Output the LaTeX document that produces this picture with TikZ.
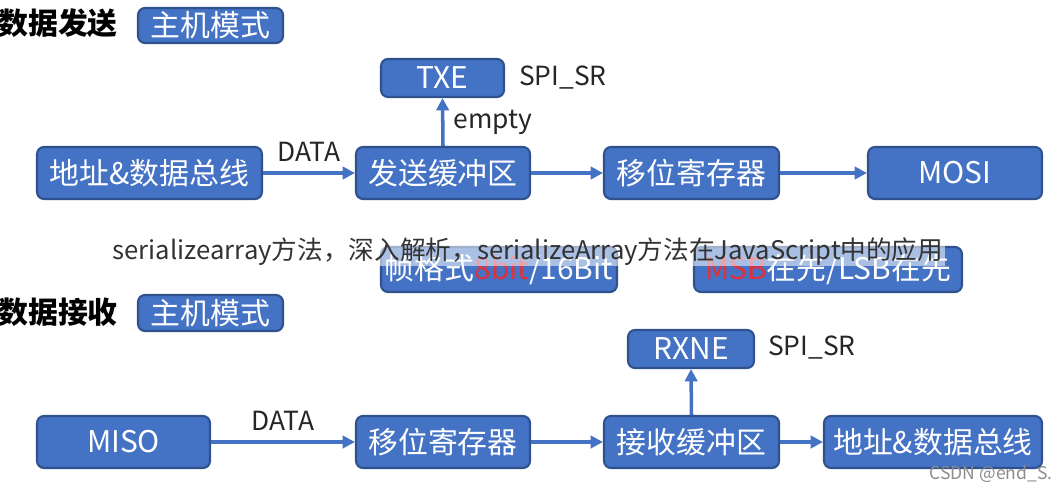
\documentclass[tikz,border=0pt]{standalone}
\usepackage{fontspec}
\setmainfont{Noto Sans CJK SC}
\usetikzlibrary{arrows.meta}
\definecolor{bfill}{HTML}{4472C4}
\definecolor{bdraw}{HTML}{2F528F}
\definecolor{mred}{HTML}{E0303A}
\begin{document}
\begin{tikzpicture}[x=0.02cm,y=-0.02cm,
 bx/.style={draw=bdraw,line width=1.2pt,fill=bfill,rounded corners=4pt,text=white,font=\fontsize{17}{17}\selectfont,inner sep=0pt},
 arr/.style={-{Triangle[length=7pt,width=7pt]},draw=bfill,line width=2pt},
 lbl/.style={font=\fontsize{15}{15}\selectfont,text=black!85}]
\useasboundingbox (0,0) rectangle (1055,490);
\fill[white] (0,0) rectangle (1055,490);
% send
\node[anchor=west,font=\fontsize{17}{17}\selectfont\bfseries,inner sep=0] (t1) at (-2,23) {数据发送};
\node[bx,minimum width=2.9cm,minimum height=0.7cm] (m1) at (210.5,25.5) {主机模式};
\node[bx,minimum width=2.46cm,minimum height=0.76cm] (txe) at (442.5,78) {TXE};
\node[lbl,anchor=west] (sr1) at (513,78) {SPI\_SR};
\node[bx,minimum width=4.5cm,minimum height=1.04cm] (addr1) at (149.5,173) {地址\&数据总线};
\node[bx,minimum width=3.48cm,minimum height=1.04cm] (buf1) at (443,173) {发送缓冲区};
\node[bx,minimum width=3.5cm,minimum height=1.04cm] (sh1) at (691.5,173) {移位寄存器};
\node[bx,minimum width=3.48cm,minimum height=1.04cm] (mosi) at (955,173) {MOSI};
\draw[arr] (addr1) -- node[lbl,above=2pt] {DATA} (buf1);
\draw[arr] (buf1) -- (sh1);
\draw[arr] (sh1) -- (mosi);
\draw[arr] (buf1.north) -- node[lbl,right=2pt] {empty} (txe.south);
\node[bx,minimum width=4.72cm,minimum height=0.9cm] (fmt) at (499,269.5) {帧格式{\color{mred}8bit}/16Bit};
\node[bx,minimum width=5.36cm,minimum height=0.9cm] (msb) at (828,269.5) {{\color{mred}MSB}在先/LSB在先};
\fill[white,opacity=0.55] (110,238) rectangle (945,266);
\node[font=\fontsize{14.6}{14.6}\selectfont,text=black!80,inner sep=0] (ov) at (528,252) {serializearray方法，深入解析，serializeArray方法在JavaScript中的应用};
% receive
\node[anchor=west,font=\fontsize{17}{17}\selectfont\bfseries,inner sep=0] (t2) at (-2,312) {数据接收};
\node[bx,minimum width=2.9cm,minimum height=0.72cm] (m2) at (210.5,313) {主机模式};
\node[bx,minimum width=2.52cm,minimum height=0.76cm] (rxne) at (691,349) {RXNE};
\node[lbl,anchor=west] (sr2) at (762,348) {SPI\_SR};
\node[bx,minimum width=3.46cm,minimum height=1.04cm] (miso) at (123.5,442) {MISO};
\node[bx,minimum width=3.48cm,minimum height=1.04cm] (sh2) at (443,442) {移位寄存器};
\node[bx,minimum width=3.5cm,minimum height=1.04cm] (buf2) at (691.5,442) {接收缓冲区};
\node[bx,minimum width=4.36cm,minimum height=1.04cm] (addr2) at (933,442) {地址\&数据总线};
\draw[arr] (miso) -- node[lbl,above=2pt] {DATA} (sh2);
\draw[arr] (sh2) -- (buf2);
\draw[arr] (buf2) -- (addr2);
\draw[arr] (buf2.north) -- (rxne.south);
\node[font=\fontsize{10}{10}\selectfont,text=black!45,anchor=east,inner sep=0] (wm) at (1053,474) {CSDN @end\_S.};
\end{tikzpicture}
\end{document}
